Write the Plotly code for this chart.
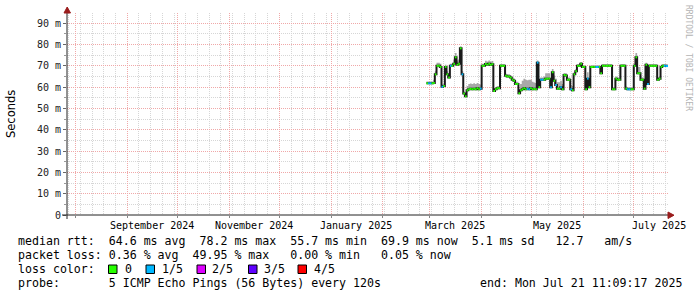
import plotly.graph_objects as go
import pandas as pd

# ---------------- data ----------------
series_start = "2025-02-27"
end_time = pd.Timestamp("2025-07-21 11:09:17")
range_start = pd.Timestamp("2024-07-27 00:00:00")

median_ms = [
    61.8, 61.8, 61.8, 61.8, 62.0, 66.0, 70.0, 70.0, 69.5, 60.2,
    60.5, 69.5, 66.0, 64.5, 70.0, 70.0, 71.0, 74.0, 70.5, 71.0,
    78.2, 66.0, 57.0, 55.7, 58.5, 59.0, 59.2, 59.0, 59.3, 59.0,
    59.5, 59.0, 59.3, 70.0, 70.0, 70.9, 70.5, 71.0, 70.5, 70.8,
    58.2, 59.0, 59.5, 59.5, 70.0, 70.0, 70.0, 65.3, 65.0, 65.0,
    64.5, 63.5, 63.0, 61.5, 61.5, 57.1, 58.5, 59.0, 59.5, 59.0,
    59.2, 59.0, 59.5, 59.0, 59.2, 59.0, 71.5, 60.0, 63.5, 63.5,
    63.5, 64.0, 64.0, 64.0, 60.0, 67.0, 63.0, 61.0, 59.3, 59.3,
    60.0, 59.0, 65.7, 65.5, 63.5, 63.5, 59.0, 58.5, 66.0, 67.5,
    70.0, 70.0, 71.0, 69.5, 69.5, 59.0, 64.0, 60.0, 69.5, 69.5,
    69.5, 69.5, 69.5, 69.5, 66.5, 70.0, 70.0, 70.0, 70.0, 70.0,
    70.0, 59.0, 59.0, 64.0, 63.5, 63.5, 70.0, 70.0, 70.0, 59.3,
    59.0, 59.0, 59.0, 59.0, 70.0, 74.0, 66.5, 66.5, 63.5, 63.5,
    59.3, 70.5, 61.5, 70.0, 70.0, 70.0, 70.0, 70.0, 63.5, 64.0,
    69.5, 70.0, 70.0, 69.9,
]

smoke_above_ms = [
    0.8, 0.8, 0.8, 0.8, 1.5, 1.5, 1.5, 1.5, 1.5, 1.0,
    1.0, 1.0, 1.5, 1.5, 1.0, 1.0, 2.0, 2.0, 2.0, 2.0,
    1.0, 1.5, 1.0, 1.0, 2.0, 2.5, 2.5, 2.5, 2.5, 2.5,
    2.5, 2.5, 2.0, 1.0, 1.0, 1.5, 1.5, 1.5, 1.5, 1.5,
    1.0, 1.0, 1.0, 1.0, 0.8, 0.8, 0.8, 1.0, 1.0, 1.0,
    1.0, 1.0, 1.0, 1.0, 1.0, 1.5, 3.0, 4.0, 4.5, 4.5,
    4.0, 4.5, 4.0, 3.5, 3.0, 3.0, 1.0, 1.0, 1.0, 1.0,
    1.5, 2.5, 2.5, 2.5, 2.0, 1.5, 2.5, 3.0, 3.0, 3.0,
    3.0, 2.5, 1.0, 1.0, 1.0, 1.0, 2.0, 2.0, 1.0, 1.0,
    0.8, 0.8, 0.8, 0.8, 0.8, 1.5, 3.0, 3.0, 0.8, 0.8,
    0.8, 0.8, 0.8, 0.8, 1.0, 0.8, 0.8, 0.8, 0.8, 0.8,
    0.8, 1.0, 1.0, 1.0, 1.0, 1.0, 0.8, 0.8, 0.8, 1.0,
    1.0, 1.0, 1.0, 1.0, 1.0, 2.0, 3.0, 3.0, 1.0, 1.0,
    1.0, 1.0, 1.0, 0.8, 0.8, 0.8, 0.8, 0.8, 1.0, 1.0,
    0.8, 0.8, 0.8, 0.8,
]

# lost pings out of 5 for each step
loss_count = [
    0, 1, 1, 0, 0, 0, 0, 0, 0, 1,
    0, 0, 0, 0, 1, 0, 0, 0, 0, 0,
    0, 1, 0, 0, 0, 0, 0, 0, 0, 0,
    0, 0, 1, 0, 0, 0, 0, 0, 0, 0,
    0, 0, 0, 0, 0, 0, 0, 0, 0, 0,
    0, 0, 0, 0, 0, 0, 0, 0, 0, 0,
    1, 1, 0, 0, 0, 0, 1, 0, 1, 1,
    0, 0, 0, 0, 1, 0, 0, 1, 0, 0,
    1, 0, 0, 0, 0, 0, 1, 0, 0, 0,
    0, 0, 0, 0, 0, 0, 1, 0, 0, 0,
    0, 1, 1, 0, 0, 0, 0, 0, 0, 0,
    0, 0, 0, 0, 0, 0, 0, 0, 0, 0,
    1, 1, 0, 0, 0, 0, 0, 0, 0, 0,
    0, 0, 1, 0, 0, 0, 0, 0, 0, 0,
    0, 0, 1, 1,
]

loss_labels = ["0", "1/5", "2/5", "3/5", "4/5"]
loss_colors = ["#26ff00", "#00b8ff", "#dd00ff", "#5e00ff", "#ff0000"]

y_tick_values = [0, 10, 20, 30, 40, 50, 60, 70, 80, 90]
y_tick_labels = ["0", "10 m", "20 m", "30 m", "40 m", "50 m", "60 m", "70 m", "80 m", "90 m"]
month_label_dates = ["2024-09-16", "2024-11-16", "2025-01-16", "2025-03-16", "2025-05-16", "2025-07-16"]
month_labels = ["September 2024", "November 2024", "January 2025", "March 2025", "May 2025", "July 2025"]

legend_lines = [
    "median rtt:  64.6 ms avg  78.2 ms max  55.7 ms min  69.9 ms now  5.1 ms sd   12.7   am/s",
    "packet loss: 0.36 % avg  49.95 % max   0.00 % min   0.05 % now",
    "loss color:",
    "probe:       5 ICMP Echo Pings (56 Bytes) every 120s",
]
end_text = "end: Mon Jul 21 11:09:17 2025"

# ---------------- geometry helpers ----------------
L, R, T, B = 67, 29, 13, 82
W, H = 697, 297
PW, PH = W - L - R, H - T - B


def px(x):
    return (x - L) / PW


def py(y):
    return (H - B - y) / PH


def nb(s):
    return s.replace(" ", "\u00a0")


MONO = "DejaVu Sans Mono"

times = list(pd.date_range(series_start, periods=len(median_ms), freq="D"))
edges = times + [end_time]
med_ext = median_ms + [median_ms[-1]]
top_ext = [m + s for m, s in zip(median_ms, smoke_above_ms)]
top_ext = top_ext + [top_ext[-1]]

fig = go.Figure()

# smoke band
fig.add_trace(go.Scatter(x=edges, y=med_ext, mode="lines", line=dict(width=0, shape="hv"),
                         hoverinfo="skip"))
fig.add_trace(go.Scatter(x=edges, y=top_ext, mode="lines", line=dict(width=0, shape="hv"),
                         fill="tonexty", fillcolor="#a8a8a8", hoverinfo="skip"))

# median step line (dark)
fig.add_trace(go.Scatter(x=edges, y=med_ext, mode="lines",
                         line=dict(color="#1a1a1a", width=2, shape="hv"), hoverinfo="skip"))

# loss coloured horizontal pieces
for k, col in enumerate(loss_colors):
    xs, ys = [], []
    for i, v in enumerate(median_ms):
        if loss_count[i] == k:
            xs += [edges[i], edges[i + 1], None]
            ys += [v, v, None]
    if xs:
        fig.add_trace(go.Scatter(x=xs, y=ys, mode="lines",
                                 line=dict(color=col, width=2), hoverinfo="skip"))

month_starts = list(pd.date_range("2024-08-01", "2025-07-01", freq="MS"))
sundays = list(pd.date_range("2024-07-28", "2025-07-21", freq="W-SUN"))

fig.update_xaxes(
    type="date", range=[range_start, end_time],
    tickmode="array", tickvals=month_starts, ticktext=[""] * len(month_starts),
    showticklabels=False, ticks="outside", ticklen=2, tickcolor="#888",
    showgrid=True, gridcolor="#f0a8a8", griddash="1px,1px", gridwidth=1,
    minor=dict(tickmode="array", tickvals=sundays, showgrid=True, gridcolor="#d6d6d6",
               griddash="1px,1px", gridwidth=1, ticks=""),
    showline=False, zeroline=False,
)
fig.update_yaxes(
    range=[0, 94.8], tickmode="array", tickvals=y_tick_values, ticktext=y_tick_labels,
    ticks="outside", ticklen=3, tickcolor="#666",
    tickfont=dict(family=MONO, size=10, color="#222"),
    showgrid=True, gridcolor="#f0a8a8", griddash="1px,1px", gridwidth=1,
    minor=dict(tickmode="array", tickvals=[5, 15, 25, 35, 45, 55, 65, 75, 85],
               showgrid=True, gridcolor="#d6d6d6", griddash="1px,1px", gridwidth=1,
               ticks="outside", ticklen=2, tickcolor="#999"),
    showline=False, zeroline=False,
)

shapes = [
    # axis lines
    dict(type="line", xref="paper", yref="paper", x0=px(67), x1=px(67), y0=py(219), y1=py(11),
         line=dict(color="#222", width=1)),
    dict(type="line", xref="paper", yref="paper", x0=px(62), x1=px(670), y0=py(215), y1=py(215),
         line=dict(color="#222", width=1)),
    # arrows
    dict(type="path", xref="paper", yref="paper",
         path=f"M {px(64)},{py(13)} L {px(70.5)},{py(13)} L {px(67.2)},{py(7)} Z",
         fillcolor="#9a1c1c", line=dict(color="#9a1c1c", width=1)),
    dict(type="path", xref="paper", yref="paper",
         path=f"M {px(668)},{py(212)} L {px(668)},{py(218.5)} L {px(674)},{py(215.2)} Z",
         fillcolor="#9a1c1c", line=dict(color="#9a1c1c", width=1)),
]

# loss colour legend squares
square_x = [108.5, 146, 197, 248.5, 298]
label_x = [123, 160, 210, 262, 312]
for sx, col in zip(square_x, loss_colors):
    shapes.append(dict(type="rect", xref="paper", yref="paper",
                       x0=px(sx), x1=px(sx + 8.5), y0=py(273.5), y1=py(265),
                       fillcolor=col, line=dict(color="#000", width=1)))

ann = []
for d, t in zip(month_label_dates, month_labels):
    ann.append(dict(x=d, xref="x", y=py(225.5), yref="paper", text=nb(t), showarrow=False,
                    xanchor="center", yanchor="middle", font=dict(family=MONO, size=10, color="#000")))

line_y = [241, 255, 269, 283]
for s, yy in zip(legend_lines, line_y):
    ann.append(dict(x=px(16), xref="paper", y=py(yy), yref="paper", text=nb(s), showarrow=False,
                    xanchor="left", yanchor="middle", font=dict(family=MONO, size=11.6, color="#000")))
for lx, lab in zip(label_x, loss_labels):
    ann.append(dict(x=px(lx), xref="paper", y=py(269), yref="paper", text=lab, showarrow=False,
                    xanchor="left", yanchor="middle", font=dict(family=MONO, size=11.6, color="#000")))
ann.append(dict(x=px(478), xref="paper", y=py(283), yref="paper", text=nb(end_text), showarrow=False,
                xanchor="left", yanchor="middle", font=dict(family=MONO, size=11.6, color="#000")))

ann.append(dict(x=px(11), xref="paper", y=py(114), yref="paper", text="Seconds", showarrow=False,
                textangle=-90, xanchor="center", yanchor="middle",
                font=dict(family="DejaVu Sans", size=11.5, color="#000")))
ann.append(dict(x=px(688), xref="paper", y=py(58), yref="paper", text=nb("RRDTOOL / TOBI OETIKER"),
                showarrow=False, textangle=90, xanchor="center", yanchor="middle",
                font=dict(family=MONO, size=8, color="#b4b4b4")))

fig.update_layout(
    width=W, height=H, margin=dict(l=L, r=R, t=T, b=B, pad=0),
    paper_bgcolor="#ffffff", plot_bgcolor="#ffffff", showlegend=False,
    shapes=shapes, annotations=ann,
)

fig.write_html("out.html", config={"displayModeBar": False})
